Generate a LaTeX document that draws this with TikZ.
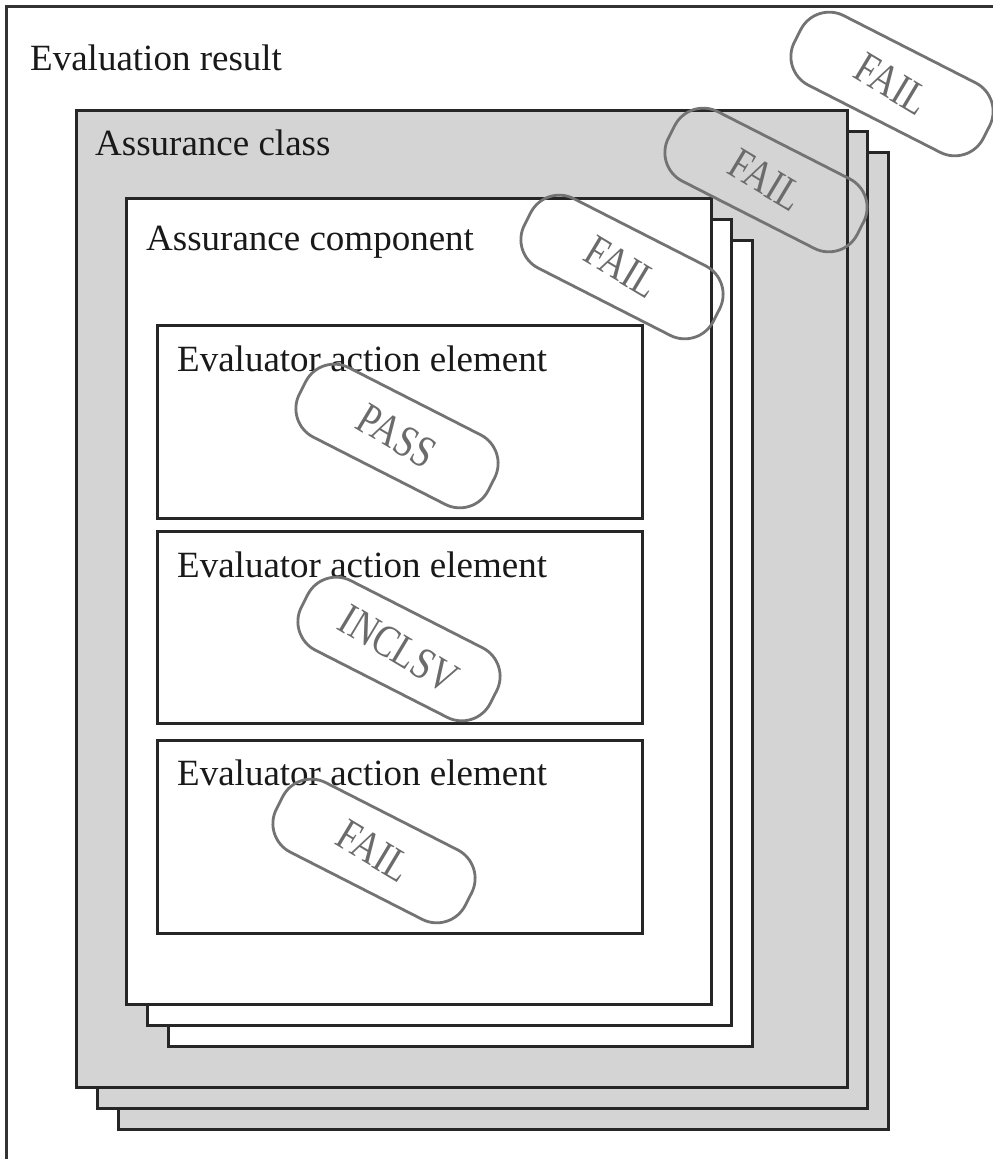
\documentclass[tikz,border=0pt]{standalone}
\usepackage{fontspec}
\setmainfont{Liberation Serif}
\newcommand{\stamptext}[1]{\rotatebox{-4}{\scalebox{0.8}[1]{#1}}}
\begin{document}
\begin{tikzpicture}[x=1pt,y=-1pt,
  frame/.style={draw=black!80,line width=3pt},
  classbox/.style={draw=black!85,line width=3pt,fill=black!17},
  compbox/.style={draw=black!85,line width=3pt,fill=white},
  lbl/.style={anchor=base west,inner sep=0pt,font=\fontsize{37}{37}\selectfont,text=black!90},
  stamp/.style={draw=black!55,line width=2.8pt,rounded corners=32pt,minimum width=212pt,minimum height=78pt,inner sep=0pt,rotate=-27,text=black!58,font=\fontsize{45}{45}\selectfont}
]
\useasboundingbox (0,0) rectangle (993,1159);
\fill[white] (0,0) rectangle (993,1159);
% outer frame (open to the right and bottom)
\draw[frame] (6,1170) -- (6,6) -- (1005,6);
% assurance class stack
\draw[classbox] (118,152) rectangle (888,1129);
\draw[classbox] (97,131) rectangle (867,1108);
\draw[classbox] (76,110) rectangle (847,1087);
% assurance component stack
\draw[compbox] (168,240) rectangle (752,1046);
\draw[compbox] (147,219) rectangle (731,1025);
\draw[compbox] (126,198) rectangle (711,1004);
% evaluator action elements
\draw[compbox] (157,325) rectangle (642,518);
\draw[compbox] (157,531) rectangle (642,723);
\draw[compbox] (157,740) rectangle (642,933);
% labels
\node[lbl] (er) at (30,70) {Evaluation result};
\node[lbl] (ac) at (95,155) {Assurance class};
\node[lbl] (acomp) at (146,250) {Assurance component};
\node[lbl] (e1) at (177,371) {Evaluator action element};
\node[lbl] (e2) at (177,577) {Evaluator action element};
\node[lbl] (e3) at (177,785) {Evaluator action element};
% stamps
\node[stamp] (s1) at (892,84) {\stamptext{FAIL}};
\node[stamp] (s2) at (766,180) {\stamptext{FAIL}};
\node[stamp] (s3) at (622,267) {\stamptext{FAIL}};
\node[stamp] (s4) at (397,436) {\stamptext{PASS}};
\node[stamp] (s5) at (399,649) {\stamptext{INCLSV}};
\node[stamp] (s6) at (374,851) {\stamptext{FAIL}};
\end{tikzpicture}
\end{document}
